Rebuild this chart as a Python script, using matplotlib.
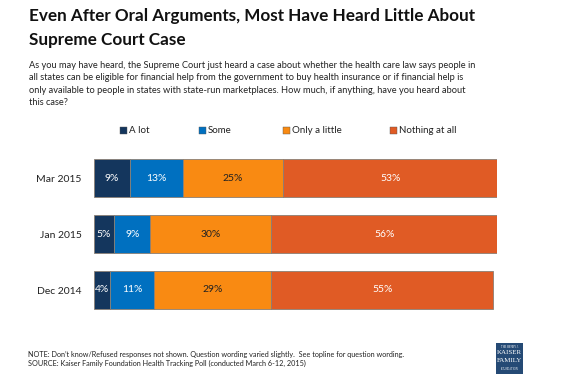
import matplotlib.pyplot as plt
from matplotlib.patches import Rectangle

# data
periods = ["Mar 2015", "Jan 2015", "Dec 2014"]
series = ["A lot", "Some", "Only a little", "Nothing at all"]
values = {
    "A lot": [9, 5, 4],
    "Some": [13, 9, 11],
    "Only a little": [25, 30, 29],
    "Nothing at all": [53, 56, 55],
}
colors = ["#14365d", "#0070c0", "#f98a12", "#e05b25"]
text_colors = ["white", "white", "#222222", "white"]
legend_x = [120, 199, 283, 390]  # pixel x of legend squares

plt.rcParams['font.family'] = ['Lato', 'DejaVu Sans']

W, H = 570, 380
fig = plt.figure(figsize=(W / 100, H / 100), dpi=100)
ax = fig.add_axes([94 / W, 1 - 318 / H, 403 / W, 168 / H])

left = [0, 0, 0]
for name, col, tc in zip(series, colors, text_colors):
    vals = values[name]
    ax.barh(range(len(periods)), vals, left=left, height=0.69, color=col,
            edgecolor="#8a7f75", linewidth=0.6)
    for i, v in enumerate(vals):
        ax.text(left[i] + v / 2, i, f"{v}%", ha="center", va="center",
                color=tc, fontsize=7.5)
    left = [a + b for a, b in zip(left, vals)]

ax.set_xlim(0, 100)
ax.set_ylim(2.5, -0.5)
ax.set_yticks(range(len(periods)))
ax.set_yticklabels(periods, fontsize=7.5, color="#222222")
ax.tick_params(axis="y", length=0, pad=9)
ax.set_xticks([])
for s in ax.spines.values():
    s.set_visible(False)

# legend, drawn by hand to match the uneven spacing
for x, c, name in zip(legend_x, colors, series):
    fig.patches.append(Rectangle((x / W, 1 - 134 / H), 7 / W, 7 / H,
                                 transform=fig.transFigure, facecolor=c,
                                 edgecolor="#555555", linewidth=0.3))
    fig.text((x + 9) / W, 1 - 130.5 / H, name, fontsize=7, va="center",
             color="#222222")

fig.text(29 / W, 1 - 21 / H, "Even After Oral Arguments, Most Have Heard Little About",
         fontsize=12.3, fontweight="bold", va="baseline", color="#111111")
fig.text(29 / W, 1 - 45 / H, "Supreme Court Case",
         fontsize=12.3, fontweight="bold", va="baseline", color="#111111")
fig.text(29 / W, 1 - 84 / H,
         "As you may have heard, the Supreme Court just heard a case about whether the health care law says people in\n"
         "all states can be eligible for financial help from the government to buy health insurance or if financial help is\n"
         "only available to people in states with state-run marketplaces. How much, if anything, have you heard about\n"
         "this case?",
         fontsize=6.7, va="center", linespacing=1.5, color="#222222")
fig.text(28 / W, 1 - 359 / H,
         "NOTE: Don\u2019t know/Refused responses not shown. Question wording varied slightly.  See topline for question wording.\n"
         "SOURCE: Kaiser Family Foundation Health Tracking Poll (conducted March 6-12, 2015)",
         fontsize=5.2, va="center", linespacing=1.45, color="#222222")

# logo
fig.patches.append(Rectangle((496 / W, 1 - 374 / H), 27 / W, 31 / H,
                             transform=fig.transFigure, facecolor="#254a75", edgecolor="none"))
logo = [("THE HENRY J.", 346.5, 2.0), ("KAISER", 353, 5.0), ("FAMILY", 361, 5.0), ("FOUNDATION", 369, 2.0)]
for txt, y, fs in logo:
    fig.text(509.5 / W, 1 - y / H, txt, fontsize=fs, color="white", ha="center",
             va="center", family="Liberation Serif")

fig.savefig("out.png", dpi=100)
